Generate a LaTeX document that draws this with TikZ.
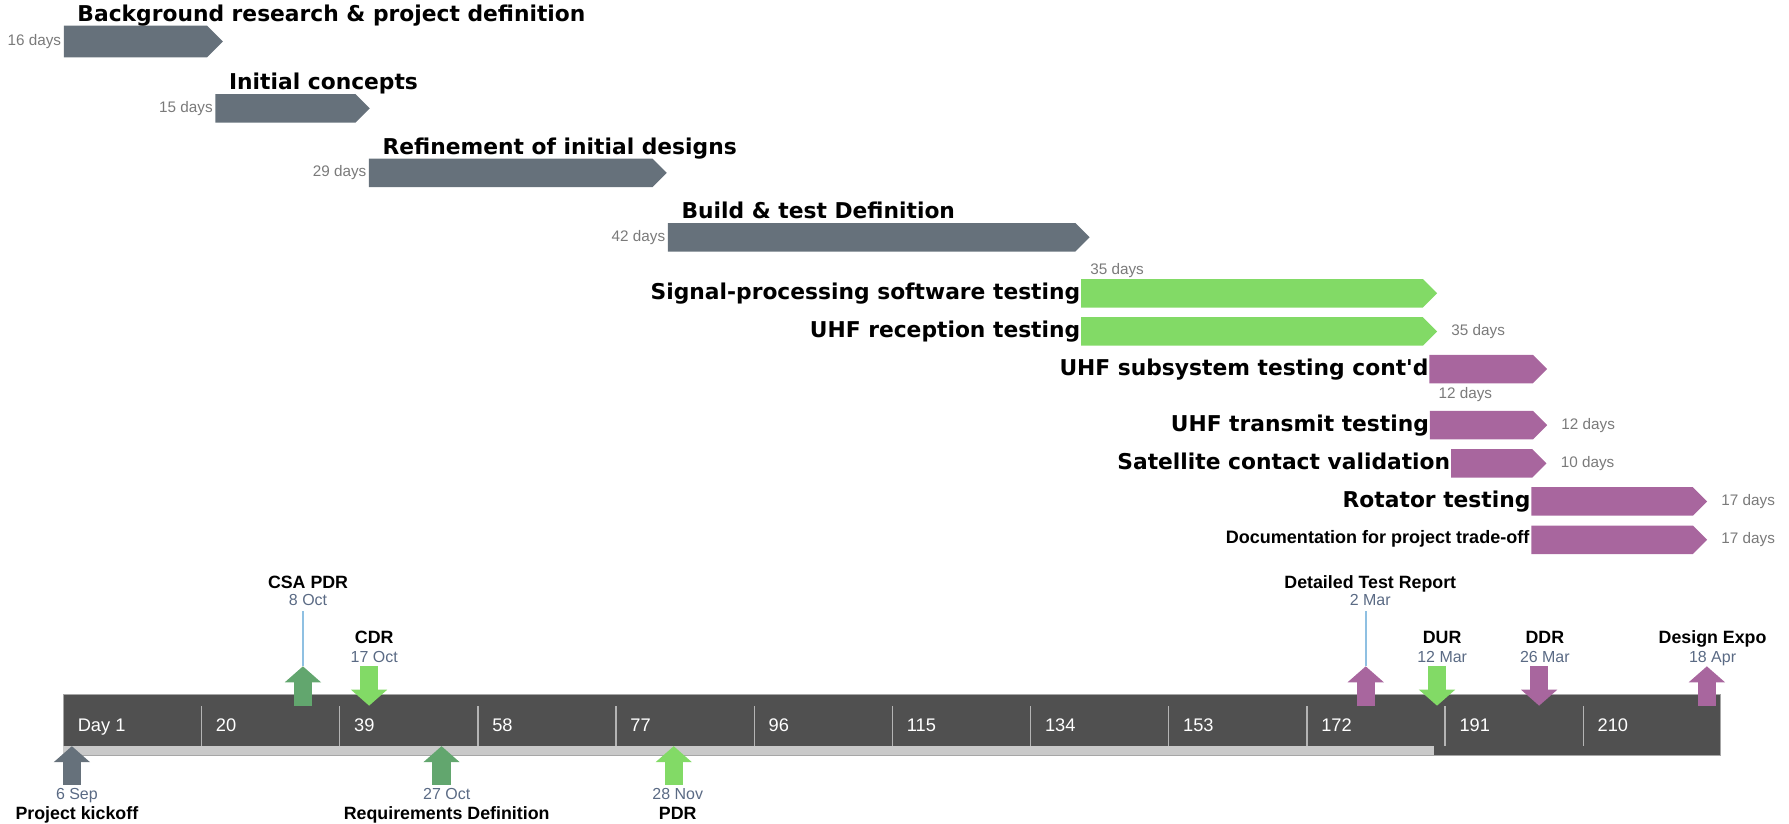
\documentclass[tikz,border=0pt]{standalone}
\usepackage{fontspec}
\setmainfont{Liberation Sans}
\newfontfamily\tasktitlefont{DejaVu Sans}[Ligatures=TeXOff]
\usetikzlibrary{shapes.symbols,arrows.meta,positioning}

\definecolor{barslate}{HTML}{66717B}
\definecolor{bargreen}{HTML}{82DA66}
\definecolor{barpurple}{HTML}{A8669E}
\definecolor{msgreen}{HTML}{62A66E}
\definecolor{tldark}{HTML}{505050}
\definecolor{tlstrip}{HTML}{C9C9C9}
\definecolor{ticklight}{HTML}{B4B4B4}
\definecolor{datetext}{HTML}{5A6A84}
\definecolor{daystext}{HTML}{7A7A7A}
\definecolor{leaderblue}{HTML}{8FC0E2}

\tikzset{
  bar/.style={signal, signal to=east, signal from=nowhere, signal pointer angle=90,
    draw=none, inner sep=0pt, minimum height=12.5pt, anchor=west},
  slatebar/.style={bar, fill=barslate},
  greenbar/.style={bar, fill=bargreen},
  purplebar/.style={bar, fill=barpurple},
  tasklabel/.style={inner sep=0pt, font=\tasktitlefont\bfseries\fontsize{9.55}{11}\selectfont},
  dayslabel/.style={inner sep=0pt, text=daystext, font=\fontsize{6.7}{8}\selectfont},
  ticklabel/.style={inner sep=0pt, anchor=base west, text=white, font=\fontsize{8}{10}\selectfont},
  msdate/.style={inner sep=0pt, anchor=base, text=datetext, font=\fontsize{7}{9}\selectfont},
  mstitle/.style={inner sep=0pt, anchor=base, font=\bfseries\fontsize{7.8}{9}\selectfont},
  msarrow/.style={line width=8pt, -{Triangle[width=15.5pt,length=7pt]}},
  leader/.style={leaderblue, line width=0.75pt, shorten >=2pt},
}

\begin{document}
\begin{tikzpicture}[x=0.5pt,y=-0.5pt]
  \useasboundingbox (0,0) rectangle (1568,722);

  % task bars
  \node[slatebar, minimum height=13.85pt, minimum width=69.75pt] (bgres) at (55.5,36.4) {};
  \node[slatebar, minimum width=67.65pt] (initcon) at (188.4,95) {};
  \node[slatebar, minimum width=130.5pt] (refine) at (323,151.5) {};
  \node[slatebar, minimum width=184.8pt] (buildtest) at (585,208) {};
  \node[greenbar, minimum width=156pt] (sigproc) at (947.2,257.1) {};
  \node[greenbar, minimum width=156pt] (uhfrx) at (947.2,290.5) {};
  \node[purplebar, minimum width=51.6pt] (uhfsub) at (1252.4,323.5) {};
  \node[purplebar, minimum width=51.4pt] (uhftx) at (1252.8,372.6) {};
  \node[purplebar, minimum width=41.8pt] (satval) at (1271.4,406.2) {};
  \node[purplebar, minimum width=77pt] (rotator) at (1341.8,439.5) {};
  \node[purplebar, minimum width=77pt] (tradeoff) at (1341.8,473.1) {};

  \node[tasklabel, anchor=base west] (bgres-t) at ([shift={(12,-3.5)}]bgres.north west) {Background research \& project definition};
  \node[tasklabel, anchor=base west] (initcon-t) at ([shift={(12,-3.5)}]initcon.north west) {Initial concepts};
  \node[tasklabel, anchor=base west] (refine-t) at ([shift={(12,-3.5)}]refine.north west) {Refinement of initial designs};
  \node[tasklabel, anchor=base west] (buildtest-t) at ([shift={(12,-3.5)}]buildtest.north west) {Build \& test Definition};
  \node[tasklabel, anchor=base east] (sigproc-t) at ([yshift=-2.8pt]sigproc.west) {Signal-processing software testing};
  \node[tasklabel, anchor=base east] (uhfrx-t) at ([yshift=-2.8pt]uhfrx.west) {UHF reception testing};
  \node[tasklabel, anchor=base east] (uhfsub-t) at ([yshift=-2.8pt]uhfsub.west) {UHF subsystem testing cont'd};
  \node[tasklabel, anchor=base east] (uhftx-t) at ([yshift=-2.8pt]uhftx.west) {UHF transmit testing};
  \node[tasklabel, anchor=base east] (satval-t) at ([yshift=-2.8pt]satval.west) {Satellite contact validation};
  \node[tasklabel, anchor=base east] (rotator-t) at ([yshift=-2.8pt]rotator.west) {Rotator testing};
  \node[inner sep=0pt, anchor=base east, font=\bfseries\fontsize{7.9}{9}\selectfont] (tradeoff-t) at ([shift={(-1,3)}]tradeoff.west) {Documentation for project trade-off};

  \node[dayslabel, anchor=east] (bgres-d) at ([xshift=-0.75pt]bgres.west) {16 days};
  \node[dayslabel, anchor=east] (initcon-d) at ([xshift=-0.75pt]initcon.west) {15 days};
  \node[dayslabel, anchor=east] (refine-d) at ([xshift=-0.75pt]refine.west) {29 days};
  \node[dayslabel, anchor=east] (buildtest-d) at ([xshift=-0.75pt]buildtest.west) {42 days};
  \node[dayslabel, anchor=base west] (sigproc-d) at ([shift={(8,-3.5)}]sigproc.north west) {35 days};
  \node[dayslabel, anchor=west] (uhfrx-d) at ([xshift=5.8pt]uhfrx.east) {35 days};
  \node[dayslabel, anchor=north west] (uhfsub-d) at ([shift={(8,2.6)}]uhfsub.south west) {12 days};
  \node[dayslabel, anchor=west] (uhftx-d) at ([xshift=5.8pt]uhftx.east) {12 days};
  \node[dayslabel, anchor=west] (satval-d) at ([xshift=5.8pt]satval.east) {10 days};
  \node[dayslabel, anchor=west] (rotator-d) at ([xshift=5.8pt]rotator.east) {17 days};
  \node[dayslabel, anchor=west] (tradeoff-d) at ([xshift=5.8pt]tradeoff.east) {17 days};

  % time scale
  \draw[fill=tldark, draw=gray!70, line width=0.4pt] (55.5,609) rectangle (1508,661.7);
  \fill[tlstrip] (55.5,653.5) rectangle (1256.5,661.7);
  \foreach \i in {1,...,11}
    \draw[ticklight, line width=0.6pt] (55.6+121.1*\i,618.8) -- (55.6+121.1*\i,653.5);
  \foreach \lbl [count=\i from 0] in {Day 1,20,39,58,77,96,115,134,153,172,191,210}
    \node[ticklabel] (tick\i) at (67.8+121.1*\i,641.1) {\lbl};

  % milestones
  \coordinate (kick-b) at (63,688);
  \coordinate (kick-t) at (63,654);
  \draw[msarrow, barslate] (kick-b) -- (kick-t);
  \node[msdate] (kick-d) at (67.4,700.5) {6 Sep};
  \node[mstitle] (kick-n) at (67.4,718.2) {Project kickoff};

  \coordinate (csa-b) at (265.5,618.5);
  \coordinate (csa-t) at (265.5,584);
  \draw[msarrow, msgreen] (csa-b) -- (csa-t);
  \node[msdate] (csa-d) at (270,531) {8 Oct};
  \node[mstitle] (csa-n) at (270,515.6) {CSA PDR};
  \draw[leader] (csa-t) -- (csa-t |- csa-d.south);

  \coordinate (cdr-b) at (323.5,584);
  \coordinate (cdr-t) at (323.5,618.5);
  \draw[msarrow, bargreen] (cdr-b) -- (cdr-t);
  \node[msdate] (cdr-d) at (328,580.8) {17 Oct};
  \node[mstitle] (cdr-n) at (328,564.4) {CDR};

  \coordinate (req-b) at (387,688);
  \coordinate (req-t) at (387,654);
  \draw[msarrow, msgreen] (req-b) -- (req-t);
  \node[msdate] (req-d) at (391.5,700.5) {27 Oct};
  \node[mstitle] (req-n) at (391.5,718.2) {Requirements Definition};

  \coordinate (pdr-b) at (590.5,688);
  \coordinate (pdr-t) at (590.5,654);
  \draw[msarrow, bargreen] (pdr-b) -- (pdr-t);
  \node[msdate] (pdr-d) at (594,700.5) {28 Nov};
  \node[mstitle] (pdr-n) at (594,718.2) {PDR};

  \coordinate (dtr-b) at (1197,618.5);
  \coordinate (dtr-t) at (1197,584);
  \draw[msarrow, barpurple] (dtr-b) -- (dtr-t);
  \node[msdate] (dtr-d) at (1201,531) {2 Mar};
  \node[mstitle] (dtr-n) at (1201,515.6) {Detailed Test Report};
  \draw[leader] (dtr-t) -- (dtr-t |- dtr-d.south);

  \coordinate (dur-b) at (1259.5,584);
  \coordinate (dur-t) at (1259.5,618.5);
  \draw[msarrow, bargreen] (dur-b) -- (dur-t);
  \node[msdate] (dur-d) at (1264,580.8) {12 Mar};
  \node[mstitle] (dur-n) at (1264,564.4) {DUR};

  \coordinate (ddr-b) at (1349,584);
  \coordinate (ddr-t) at (1349,618.5);
  \draw[msarrow, barpurple] (ddr-b) -- (ddr-t);
  \node[msdate] (ddr-d) at (1354,580.8) {26 Mar};
  \node[mstitle] (ddr-n) at (1354,564.4) {DDR};

  \coordinate (expo-b) at (1496,618.5);
  \coordinate (expo-t) at (1496,584);
  \draw[msarrow, barpurple] (expo-b) -- (expo-t);
  \node[msdate] (expo-d) at (1501,580.8) {18 Apr};
  \node[mstitle] (expo-n) at (1501,564.4) {Design Expo};
\end{tikzpicture}
\end{document}
